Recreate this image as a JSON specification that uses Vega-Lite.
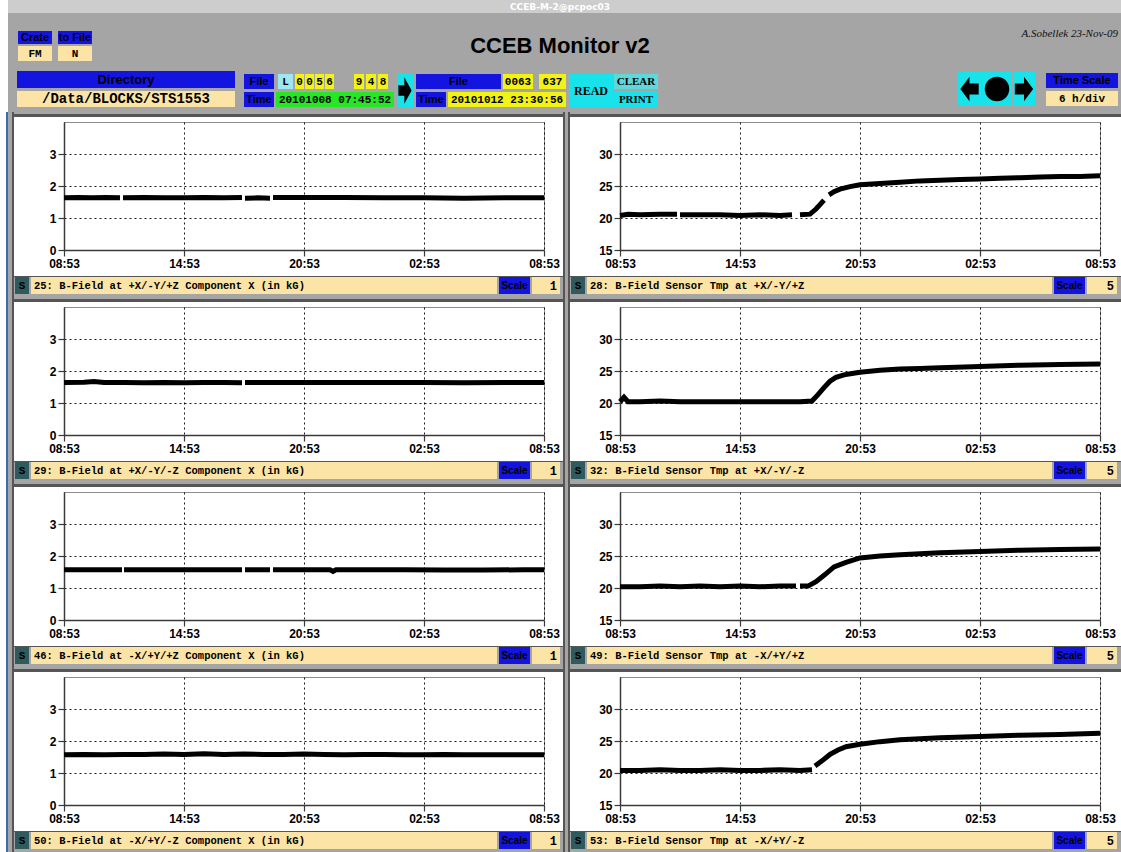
{
  "$schema": "https://vega.github.io/schema/vega-lite/v6.json",
  "background": "#ffffff",
  "padding": 0,
  "config": {
    "view": {"stroke": null},
    "concat": {"spacing": 0},
    "axis": {
      "labelFont": "Liberation Sans", "labelFontWeight": "bold", "labelFontSize": 12, "labelColor": "#000000",
      "grid": true, "gridColor": "#000000", "gridDash": [2, 3], "gridOpacity": 0.9, "gridWidth": 1,
      "domainColor": "#3a3a3a", "domainWidth": 1.5, "tickColor": "#3a3a3a", "tickSize": 6, "tickWidth": 1.2,
      "labelPadding": 2, "labelFlush": false, "labelOverlap": false, "labelBound": false
    },
    "style": {
      "lbl": {"font": "Liberation Sans", "fontWeight": "bold", "fontSize": 11, "fill": "#f2f2f2"},
      "lblL": {"font": "Liberation Sans", "fontWeight": "bold", "fontSize": 13, "fill": "#eeeeee"},
      "val": {"font": "Liberation Mono", "fontWeight": "bold", "fontSize": 11, "fill": "#111111"},
      "path": {"font": "Liberation Mono", "fontWeight": "bold", "fontSize": 14, "fill": "#222222"},
      "btn": {"font": "Liberation Serif", "fontWeight": "bold", "fontSize": 11, "fill": "#000000"},
      "btnL": {"font": "Liberation Serif", "fontWeight": "bold", "fontSize": 12, "fill": "#000000"},
      "sb": {"font": "Liberation Mono", "fontWeight": "bold", "fontSize": 11, "fill": "#e8e8e8"},
      "scl": {"font": "Liberation Sans", "fontWeight": "bold", "fontSize": 10, "fill": "#ffffff"},
      "foot": {"font": "Liberation Mono", "fontWeight": "bold", "fontSize": 10.5, "fill": "#111111", "align": "left", "dx": 3},
      "num": {"font": "Liberation Mono", "fontWeight": "bold", "fontSize": 12, "fill": "#111111", "align": "right", "dx": -3}
    }
  },
  "datasets": {
    "p25": [
      {"hours": 0, "value": 1.63, "seg": 1}, {"hours": 0.7, "value": 1.64, "seg": 1}, {"hours": 1.4, "value": 1.63, "seg": 1}, {"hours": 2.1, "value": 1.64, "seg": 1}, {"hours": 2.8, "value": 1.63, "seg": 1},
      {"hours": 2.95, "value": 1.63, "seg": 2}, {"hours": 4, "value": 1.64, "seg": 2}, {"hours": 5, "value": 1.63, "seg": 2}, {"hours": 6, "value": 1.63, "seg": 2}, {"hours": 7, "value": 1.64, "seg": 2}, {"hours": 8, "value": 1.63, "seg": 2}, {"hours": 8.9, "value": 1.64, "seg": 2},
      {"hours": 9.05, "value": 1.62, "seg": 3}, {"hours": 9.7, "value": 1.63, "seg": 3}, {"hours": 10.3, "value": 1.62, "seg": 3},
      {"hours": 10.45, "value": 1.64, "seg": 4}, {"hours": 12, "value": 1.64, "seg": 4}, {"hours": 14, "value": 1.64, "seg": 4}, {"hours": 16, "value": 1.63, "seg": 4}, {"hours": 18, "value": 1.63, "seg": 4}, {"hours": 20, "value": 1.62, "seg": 4}, {"hours": 22, "value": 1.63, "seg": 4}, {"hours": 24, "value": 1.63, "seg": 4}
    ],
    "p29": [
      {"hours": 0, "value": 1.64, "seg": 1}, {"hours": 1, "value": 1.65, "seg": 1}, {"hours": 1.5, "value": 1.67, "seg": 1}, {"hours": 2, "value": 1.64, "seg": 1}, {"hours": 3, "value": 1.64, "seg": 1}, {"hours": 4, "value": 1.63, "seg": 1}, {"hours": 5, "value": 1.64, "seg": 1}, {"hours": 6, "value": 1.63, "seg": 1}, {"hours": 7, "value": 1.64, "seg": 1}, {"hours": 8, "value": 1.64, "seg": 1}, {"hours": 8.9, "value": 1.63, "seg": 1},
      {"hours": 9.05, "value": 1.64, "seg": 2}, {"hours": 10, "value": 1.64, "seg": 2}, {"hours": 12, "value": 1.64, "seg": 2}, {"hours": 14, "value": 1.64, "seg": 2}, {"hours": 16, "value": 1.64, "seg": 2}, {"hours": 18, "value": 1.64, "seg": 2}, {"hours": 20, "value": 1.63, "seg": 2}, {"hours": 22, "value": 1.64, "seg": 2}, {"hours": 24, "value": 1.64, "seg": 2}
    ],
    "p46": [
      {"hours": 0, "value": 1.57, "seg": 1}, {"hours": 1, "value": 1.57, "seg": 1}, {"hours": 2, "value": 1.57, "seg": 1}, {"hours": 2.9, "value": 1.57, "seg": 1},
      {"hours": 3.0, "value": 1.57, "seg": 2}, {"hours": 4, "value": 1.57, "seg": 2}, {"hours": 5, "value": 1.57, "seg": 2}, {"hours": 6, "value": 1.57, "seg": 2}, {"hours": 7, "value": 1.57, "seg": 2}, {"hours": 8, "value": 1.57, "seg": 2}, {"hours": 8.9, "value": 1.57, "seg": 2},
      {"hours": 9.05, "value": 1.57, "seg": 3}, {"hours": 9.7, "value": 1.57, "seg": 3}, {"hours": 10.3, "value": 1.57, "seg": 3},
      {"hours": 10.45, "value": 1.57, "seg": 4}, {"hours": 12, "value": 1.57, "seg": 4}, {"hours": 13.3, "value": 1.57, "seg": 4}, {"hours": 13.45, "value": 1.52, "seg": 4}, {"hours": 13.6, "value": 1.57, "seg": 4}, {"hours": 15, "value": 1.57, "seg": 4}, {"hours": 17, "value": 1.57, "seg": 4}, {"hours": 19, "value": 1.56, "seg": 4}, {"hours": 21, "value": 1.56, "seg": 4}, {"hours": 23, "value": 1.57, "seg": 4}, {"hours": 24, "value": 1.57, "seg": 4}
    ],
    "p50": [
      {"hours": 0, "value": 1.57, "seg": 1}, {"hours": 1, "value": 1.58, "seg": 1}, {"hours": 2, "value": 1.57, "seg": 1}, {"hours": 3, "value": 1.58, "seg": 1}, {"hours": 4, "value": 1.58, "seg": 1}, {"hours": 5, "value": 1.59, "seg": 1}, {"hours": 6, "value": 1.58, "seg": 1}, {"hours": 7, "value": 1.6, "seg": 1}, {"hours": 8, "value": 1.58, "seg": 1}, {"hours": 9, "value": 1.59, "seg": 1}, {"hours": 10, "value": 1.58, "seg": 1}, {"hours": 11, "value": 1.58, "seg": 1}, {"hours": 12, "value": 1.59, "seg": 1},
      {"hours": 13, "value": 1.58, "seg": 1}, {"hours": 14, "value": 1.57, "seg": 1}, {"hours": 15, "value": 1.58, "seg": 1}, {"hours": 16, "value": 1.58, "seg": 1}, {"hours": 17, "value": 1.57, "seg": 1}, {"hours": 18, "value": 1.57, "seg": 1}, {"hours": 19, "value": 1.58, "seg": 1}, {"hours": 20, "value": 1.57, "seg": 1}, {"hours": 21, "value": 1.57, "seg": 1}, {"hours": 22, "value": 1.57, "seg": 1}, {"hours": 23, "value": 1.57, "seg": 1}, {"hours": 24, "value": 1.57, "seg": 1}
    ],
    "p28": [
      {"hours": 0, "value": 20.4, "seg": 1}, {"hours": 0.4, "value": 20.6, "seg": 1}, {"hours": 1, "value": 20.5, "seg": 1}, {"hours": 2, "value": 20.6, "seg": 1}, {"hours": 2.85, "value": 20.6, "seg": 1},
      {"hours": 3.0, "value": 20.5, "seg": 2}, {"hours": 4, "value": 20.5, "seg": 2}, {"hours": 5, "value": 20.5, "seg": 2}, {"hours": 6, "value": 20.4, "seg": 2}, {"hours": 7, "value": 20.5, "seg": 2}, {"hours": 8, "value": 20.4, "seg": 2}, {"hours": 8.6, "value": 20.5, "seg": 2},
      {"hours": 9.0, "value": 20.5, "seg": 3}, {"hours": 9.5, "value": 20.6, "seg": 3}, {"hours": 9.8, "value": 21.4, "seg": 3}, {"hours": 10.0, "value": 22.1, "seg": 3}, {"hours": 10.2, "value": 22.8, "seg": 3},
      {"hours": 10.45, "value": 23.6, "seg": 4}, {"hours": 10.7, "value": 24.1, "seg": 4}, {"hours": 11, "value": 24.5, "seg": 4}, {"hours": 11.5, "value": 24.9, "seg": 4}, {"hours": 12, "value": 25.2, "seg": 4}, {"hours": 13, "value": 25.4, "seg": 4}, {"hours": 14, "value": 25.6, "seg": 4}, {"hours": 15, "value": 25.8, "seg": 4}, {"hours": 16, "value": 25.9, "seg": 4}, {"hours": 17, "value": 26.0, "seg": 4}, {"hours": 18, "value": 26.1, "seg": 4}, {"hours": 19, "value": 26.2, "seg": 4}, {"hours": 20, "value": 26.3, "seg": 4}, {"hours": 21, "value": 26.4, "seg": 4}, {"hours": 22, "value": 26.5, "seg": 4}, {"hours": 23, "value": 26.5, "seg": 4}, {"hours": 24, "value": 26.6, "seg": 4}
    ],
    "p32": [
      {"hours": 0, "value": 20.2, "seg": 1}, {"hours": 0.2, "value": 20.9, "seg": 1}, {"hours": 0.4, "value": 20.2, "seg": 1}, {"hours": 1, "value": 20.2, "seg": 1}, {"hours": 2, "value": 20.3, "seg": 1}, {"hours": 3, "value": 20.2, "seg": 1}, {"hours": 4, "value": 20.2, "seg": 1}, {"hours": 5, "value": 20.2, "seg": 1}, {"hours": 6, "value": 20.2, "seg": 1}, {"hours": 7, "value": 20.2, "seg": 1}, {"hours": 8, "value": 20.2, "seg": 1}, {"hours": 9, "value": 20.2, "seg": 1}, {"hours": 9.6, "value": 20.3, "seg": 1},
      {"hours": 9.9, "value": 21.3, "seg": 1}, {"hours": 10.2, "value": 22.4, "seg": 1}, {"hours": 10.5, "value": 23.4, "seg": 1}, {"hours": 10.8, "value": 24.0, "seg": 1}, {"hours": 11.2, "value": 24.4, "seg": 1}, {"hours": 11.6, "value": 24.6, "seg": 1}, {"hours": 12, "value": 24.8, "seg": 1}, {"hours": 13, "value": 25.1, "seg": 1}, {"hours": 14, "value": 25.3, "seg": 1}, {"hours": 15, "value": 25.4, "seg": 1}, {"hours": 16, "value": 25.5, "seg": 1}, {"hours": 18, "value": 25.7, "seg": 1}, {"hours": 20, "value": 25.9, "seg": 1}, {"hours": 22, "value": 26.0, "seg": 1}, {"hours": 24, "value": 26.1, "seg": 1}
    ],
    "p49": [
      {"hours": 0, "value": 20.2, "seg": 1}, {"hours": 1, "value": 20.2, "seg": 1}, {"hours": 2, "value": 20.3, "seg": 1}, {"hours": 3, "value": 20.2, "seg": 1}, {"hours": 4, "value": 20.3, "seg": 1}, {"hours": 5, "value": 20.2, "seg": 1}, {"hours": 6, "value": 20.3, "seg": 1}, {"hours": 7, "value": 20.2, "seg": 1}, {"hours": 8, "value": 20.3, "seg": 1}, {"hours": 8.8, "value": 20.3, "seg": 1},
      {"hours": 9.0, "value": 20.3, "seg": 2}, {"hours": 9.4, "value": 20.3, "seg": 2}, {"hours": 9.8, "value": 21.0, "seg": 2}, {"hours": 10.25, "value": 22.1, "seg": 2}, {"hours": 10.7, "value": 23.3, "seg": 2}, {"hours": 11.3, "value": 24.0, "seg": 2}, {"hours": 12, "value": 24.7, "seg": 2}, {"hours": 13, "value": 25.0, "seg": 2}, {"hours": 14, "value": 25.2, "seg": 2}, {"hours": 16, "value": 25.5, "seg": 2}, {"hours": 18, "value": 25.7, "seg": 2}, {"hours": 20, "value": 25.9, "seg": 2}, {"hours": 22, "value": 26.0, "seg": 2}, {"hours": 24, "value": 26.1, "seg": 2}
    ],
    "p53": [
      {"hours": 0, "value": 20.4, "seg": 1}, {"hours": 1, "value": 20.4, "seg": 1}, {"hours": 2, "value": 20.5, "seg": 1}, {"hours": 3, "value": 20.4, "seg": 1}, {"hours": 4, "value": 20.4, "seg": 1}, {"hours": 5, "value": 20.5, "seg": 1}, {"hours": 6, "value": 20.4, "seg": 1}, {"hours": 7, "value": 20.4, "seg": 1}, {"hours": 8, "value": 20.5, "seg": 1}, {"hours": 9, "value": 20.4, "seg": 1}, {"hours": 9.6, "value": 20.5, "seg": 1},
      {"hours": 9.75, "value": 21.1, "seg": 2}, {"hours": 10.1, "value": 21.9, "seg": 2}, {"hours": 10.5, "value": 22.9, "seg": 2}, {"hours": 10.9, "value": 23.6, "seg": 2}, {"hours": 11.3, "value": 24.1, "seg": 2}, {"hours": 12, "value": 24.5, "seg": 2}, {"hours": 13, "value": 24.9, "seg": 2}, {"hours": 14, "value": 25.2, "seg": 2}, {"hours": 16, "value": 25.5, "seg": 2}, {"hours": 18, "value": 25.7, "seg": 2}, {"hours": 20, "value": 25.9, "seg": 2}, {"hours": 22, "value": 26.0, "seg": 2}, {"hours": 24, "value": 26.2, "seg": 2}
    ]
  },
  "vconcat": [
    {"hconcat": [
      {"width": 8, "height": 112, "view": {"fill": "transparent"}, "mark": "text", "data": {"values": []}},
      {"vconcat": [
        {"bounds": "flush", "hconcat": [
          {"width": 1104, "height": 13, "view": {"fill": "#cdcdcd"}, "data": {"values": [{"t": "CCEB-M-2@pcpoc03"}]}, "mark": {"type": "text", "font": "DejaVu Sans", "fontWeight": "bold", "fontSize": 9, "fill": "#ffffff"}, "encoding": {"text": {"field": "t"}}},
          {"width": 9, "height": 13, "view": {"fill": "#cdcdcd"}, "mark": "text", "data": {"values": []}}
        ]},
        {"width": 1113, "height": 14, "view": {"fill": "#a5a5a5"}, "mark": "text", "data": {"values": []}},
        {"hconcat": [
          {"width": 10, "height": 38, "view": {"fill": "#a5a5a5"}, "mark": "text", "data": {"values": []}},
          {"bounds": "flush", "vconcat": [
            {"width": 34, "height": 4, "view": {"fill": "#a5a5a5"}, "mark": "text", "data": {"values": []}},
            {"width": 34, "height": 13, "view": {"fill": "#1414e0"}, "data": {"values": [{"t": "Crate"}]}, "mark": {"type": "text", "style": "lbl"}, "encoding": {"text": {"field": "t"}}},
            {"width": 34, "height": 2, "view": {"fill": "#a5a5a5"}, "mark": "text", "data": {"values": []}},
            {"width": 34, "height": 15, "view": {"fill": "#fce4a6"}, "data": {"values": [{"t": "FM"}]}, "mark": {"type": "text", "style": "val"}, "encoding": {"text": {"field": "t"}}},
            {"width": 34, "height": 4, "view": {"fill": "#a5a5a5"}, "mark": "text", "data": {"values": []}}
          ]},
          {"width": 6, "height": 38, "view": {"fill": "#a5a5a5"}, "mark": "text", "data": {"values": []}},
          {"bounds": "flush", "vconcat": [
            {"width": 34, "height": 4, "view": {"fill": "#a5a5a5"}, "mark": "text", "data": {"values": []}},
            {"width": 34, "height": 13, "view": {"fill": "#1414e0"}, "data": {"values": [{"t": "to File"}]}, "mark": {"type": "text", "style": "lbl"}, "encoding": {"text": {"field": "t"}}},
            {"width": 34, "height": 2, "view": {"fill": "#a5a5a5"}, "mark": "text", "data": {"values": []}},
            {"width": 34, "height": 15, "view": {"fill": "#fce4a6"}, "data": {"values": [{"t": "N"}]}, "mark": {"type": "text", "style": "val"}, "encoding": {"text": {"field": "t"}}},
            {"width": 34, "height": 4, "view": {"fill": "#a5a5a5"}, "mark": "text", "data": {"values": []}}
          ]},
          {"width": 37, "height": 38, "view": {"fill": "#a5a5a5"}, "mark": "text", "data": {"values": []}},
          {"width": 862, "height": 38, "view": {"fill": "#a5a5a5"}, "data": {"values": [{"t": "CCEB Monitor v2"}]}, "mark": {"type": "text", "font": "Liberation Sans", "fontWeight": "bold", "fontSize": 22, "fill": "#000000"}, "encoding": {"text": {"field": "t"}}},
          {"width": 130, "height": 38, "view": {"fill": "#a5a5a5"}, "data": {"values": [{"t": "A.Sobellek 23-Nov-09"}]}, "mark": {"type": "text", "font": "Liberation Serif", "fontStyle": "italic", "fontSize": 11, "fill": "#111111", "align": "right", "baseline": "top", "dx": -3, "dy": 1}, "encoding": {"text": {"field": "t"}, "x": {"field": "t", "type": "nominal", "scale": {"type": "point", "padding": 0, "align": 1}, "axis": null}, "y": {"field": "t", "type": "nominal", "scale": {"type": "point", "padding": 0, "align": 0}, "axis": null}}}
        ]},
        {"width": 1113, "height": 3, "view": {"fill": "#a5a5a5"}, "mark": "text", "data": {"values": []}},
        {"hconcat": [
          {"width": 9, "height": 42, "view": {"fill": "#a5a5a5"}, "mark": "text", "data": {"values": []}},
          {"bounds": "flush", "vconcat": [
            {"width": 218, "height": 3, "view": {"fill": "#a5a5a5"}, "mark": "text", "data": {"values": []}},
            {"width": 218, "height": 17, "view": {"fill": "#1414e0"}, "data": {"values": [{"t": "Directory"}]}, "mark": {"type": "text", "style": "lblL"}, "encoding": {"text": {"field": "t"}}},
            {"width": 218, "height": 3, "view": {"fill": "#a5a5a5"}, "mark": "text", "data": {"values": []}},
            {"width": 218, "height": 16, "view": {"fill": "#fce4a6"}, "data": {"values": [{"t": "/Data/BLOCKS/STS1553"}]}, "mark": {"type": "text", "style": "path"}, "encoding": {"text": {"field": "t"}}},
            {"width": 218, "height": 3, "view": {"fill": "#a5a5a5"}, "mark": "text", "data": {"values": []}}
          ]},
          {"width": 9, "height": 42, "view": {"fill": "#a5a5a5"}, "mark": "text", "data": {"values": []}},
          {"vconcat": [
            {"width": 150, "height": 6, "view": {"fill": "#a5a5a5"}, "mark": "text", "data": {"values": []}},
            {"bounds": "flush", "hconcat": [
              {"width": 30, "height": 15, "view": {"fill": "#1414e0"}, "data": {"values": [{"t": "File"}]}, "mark": {"type": "text", "style": "lbl"}, "encoding": {"text": {"field": "t"}}},
              {"width": 4, "height": 15, "view": {"fill": "#a5a5a5"}, "mark": "text", "data": {"values": []}},
              {"width": 15, "height": 15, "view": {"fill": "#9fe6ee"}, "data": {"values": [{"t": "L"}]}, "mark": {"type": "text", "style": "val"}, "encoding": {"text": {"field": "t"}}},
              {"width": 2, "height": 15, "view": {"fill": "#a5a5a5"}, "mark": "text", "data": {"values": []}},
              {"width": 9, "height": 15, "view": {"fill": "#f2f214"}, "data": {"values": [{"t": "0"}]}, "mark": {"type": "text", "style": "val"}, "encoding": {"text": {"field": "t"}}},
              {"width": 1, "height": 15, "view": {"fill": "#a5a5a5"}, "mark": "text", "data": {"values": []}},
              {"width": 9, "height": 15, "view": {"fill": "#f2f214"}, "data": {"values": [{"t": "0"}]}, "mark": {"type": "text", "style": "val"}, "encoding": {"text": {"field": "t"}}},
              {"width": 1, "height": 15, "view": {"fill": "#a5a5a5"}, "mark": "text", "data": {"values": []}},
              {"width": 9, "height": 15, "view": {"fill": "#f2f214"}, "data": {"values": [{"t": "5"}]}, "mark": {"type": "text", "style": "val"}, "encoding": {"text": {"field": "t"}}},
              {"width": 1, "height": 15, "view": {"fill": "#a5a5a5"}, "mark": "text", "data": {"values": []}},
              {"width": 9, "height": 15, "view": {"fill": "#f2f214"}, "data": {"values": [{"t": "6"}]}, "mark": {"type": "text", "style": "val"}, "encoding": {"text": {"field": "t"}}},
              {"width": 20, "height": 15, "view": {"fill": "#a5a5a5"}, "mark": "text", "data": {"values": []}},
              {"width": 10, "height": 15, "view": {"fill": "#f2f214"}, "data": {"values": [{"t": "9"}]}, "mark": {"type": "text", "style": "val"}, "encoding": {"text": {"field": "t"}}},
              {"width": 2, "height": 15, "view": {"fill": "#a5a5a5"}, "mark": "text", "data": {"values": []}},
              {"width": 10, "height": 15, "view": {"fill": "#f2f214"}, "data": {"values": [{"t": "4"}]}, "mark": {"type": "text", "style": "val"}, "encoding": {"text": {"field": "t"}}},
              {"width": 2, "height": 15, "view": {"fill": "#a5a5a5"}, "mark": "text", "data": {"values": []}},
              {"width": 10, "height": 15, "view": {"fill": "#f2f214"}, "data": {"values": [{"t": "8"}]}, "mark": {"type": "text", "style": "val"}, "encoding": {"text": {"field": "t"}}},
              {"width": 6, "height": 15, "view": {"fill": "#a5a5a5"}, "mark": "text", "data": {"values": []}}
            ]},
            {"width": 150, "height": 3, "view": {"fill": "#a5a5a5"}, "mark": "text", "data": {"values": []}},
            {"bounds": "flush", "hconcat": [
              {"width": 30, "height": 15, "view": {"fill": "#1414e0"}, "data": {"values": [{"t": "Time"}]}, "mark": {"type": "text", "style": "lbl"}, "encoding": {"text": {"field": "t"}}},
              {"width": 2, "height": 15, "view": {"fill": "#a5a5a5"}, "mark": "text", "data": {"values": []}},
              {"width": 118, "height": 15, "view": {"fill": "#26e626"}, "data": {"values": [{"t": "20101008 07:45:52"}]}, "mark": {"type": "text", "style": "val"}, "encoding": {"text": {"field": "t"}}}
            ]},
            {"width": 150, "height": 3, "view": {"fill": "#a5a5a5"}, "mark": "text", "data": {"values": []}}
          ]},
          {"width": 3, "height": 42, "view": {"fill": "#a5a5a5"}, "mark": "text", "data": {"values": []}},
          {"bounds": "flush", "vconcat": [
            {"width": 16, "height": 6, "view": {"fill": "#a5a5a5"}, "mark": "text", "data": {"values": []}},
            {"width": 16, "height": 33, "view": {"fill": "#18e2ea"}, "data": {"values": [{"b": "jump"}]}, "mark": {"type": "point", "shape": "M0.5,0L-0.05,-1L-0.05,-0.4L-0.5,-0.4L-0.5,0.4L-0.05,0.4L-0.05,1Z", "size": 700, "filled": true, "color": "#000000", "opacity": 1, "strokeWidth": 0}, "encoding": {}},
            {"width": 16, "height": 3, "view": {"fill": "#a5a5a5"}, "mark": "text", "data": {"values": []}}
          ]},
          {"width": 3, "height": 42, "view": {"fill": "#a5a5a5"}, "mark": "text", "data": {"values": []}},
          {"vconcat": [
            {"width": 150, "height": 6, "view": {"fill": "#a5a5a5"}, "mark": "text", "data": {"values": []}},
            {"bounds": "flush", "hconcat": [
              {"width": 85, "height": 15, "view": {"fill": "#1414e0"}, "data": {"values": [{"t": "File"}]}, "mark": {"type": "text", "style": "lbl"}, "encoding": {"text": {"field": "t"}}},
              {"width": 2, "height": 15, "view": {"fill": "#a5a5a5"}, "mark": "text", "data": {"values": []}},
              {"width": 30, "height": 15, "view": {"fill": "#f2f214"}, "data": {"values": [{"t": "0063"}]}, "mark": {"type": "text", "style": "val"}, "encoding": {"text": {"field": "t"}}},
              {"width": 6, "height": 15, "view": {"fill": "#a5a5a5"}, "mark": "text", "data": {"values": []}},
              {"width": 27, "height": 15, "view": {"fill": "#f2f214"}, "data": {"values": [{"t": "637"}]}, "mark": {"type": "text", "style": "val"}, "encoding": {"text": {"field": "t"}}}
            ]},
            {"width": 150, "height": 3, "view": {"fill": "#a5a5a5"}, "mark": "text", "data": {"values": []}},
            {"bounds": "flush", "hconcat": [
              {"width": 30, "height": 15, "view": {"fill": "#1414e0"}, "data": {"values": [{"t": "Time"}]}, "mark": {"type": "text", "style": "lbl"}, "encoding": {"text": {"field": "t"}}},
              {"width": 2, "height": 15, "view": {"fill": "#a5a5a5"}, "mark": "text", "data": {"values": []}},
              {"width": 118, "height": 15, "view": {"fill": "#f2f214"}, "data": {"values": [{"t": "20101012 23:30:56"}]}, "mark": {"type": "text", "style": "val"}, "encoding": {"text": {"field": "t"}}}
            ]},
            {"width": 150, "height": 3, "view": {"fill": "#a5a5a5"}, "mark": "text", "data": {"values": []}}
          ]},
          {"width": 3, "height": 42, "view": {"fill": "#a5a5a5"}, "mark": "text", "data": {"values": []}},
          {"bounds": "flush", "vconcat": [
            {"width": 44, "height": 6, "view": {"fill": "#a5a5a5"}, "mark": "text", "data": {"values": []}},
            {"width": 44, "height": 33, "view": {"fill": "#18e2ea"}, "data": {"values": [{"t": "READ"}]}, "mark": {"type": "text", "style": "btnL"}, "encoding": {"text": {"field": "t"}}},
            {"width": 44, "height": 3, "view": {"fill": "#a5a5a5"}, "mark": "text", "data": {"values": []}}
          ]},
          {"width": 1, "height": 42, "view": {"fill": "#a5a5a5"}, "mark": "text", "data": {"values": []}},
          {"bounds": "flush", "vconcat": [
            {"width": 44, "height": 6, "view": {"fill": "#a5a5a5"}, "mark": "text", "data": {"values": []}},
            {"width": 44, "height": 15, "view": {"fill": "#5fd8dc"}, "data": {"values": [{"t": "CLEAR"}]}, "mark": {"type": "text", "style": "btn"}, "encoding": {"text": {"field": "t"}}},
            {"width": 44, "height": 3, "view": {"fill": "#a5a5a5"}, "mark": "text", "data": {"values": []}},
            {"width": 44, "height": 15, "view": {"fill": "#18e2ea"}, "data": {"values": [{"t": "PRINT"}]}, "mark": {"type": "text", "style": "btn"}, "encoding": {"text": {"field": "t"}}},
            {"width": 44, "height": 3, "view": {"fill": "#a5a5a5"}, "mark": "text", "data": {"values": []}}
          ]},
          {"width": 300, "height": 42, "view": {"fill": "#a5a5a5"}, "mark": "text", "data": {"values": []}},
          {"vconcat": [
            {"width": 77, "height": 4, "view": {"fill": "#a5a5a5"}, "mark": "text", "data": {"values": []}},
            {"bounds": "flush", "hconcat": [
              {"width": 23, "height": 34, "view": {"fill": "#18e2ea"}, "data": {"values": [{"b": "back"}]}, "mark": {"type": "point", "shape": "M-0.75,0L0,-1L0,-0.45L0.75,-0.45L0.75,0.45L0,0.45L0,1Z", "size": 600, "filled": true, "color": "#000000", "opacity": 1, "strokeWidth": 0}, "encoding": {}},
              {"width": 1, "height": 34, "view": {"fill": "#a5a5a5"}, "mark": "text", "data": {"values": []}},
              {"width": 30, "height": 34, "view": {"fill": "#18e2ea"}, "data": {"values": [{"b": "stop"}]}, "mark": {"type": "point", "shape": "circle", "size": 600, "filled": true, "color": "#000000", "opacity": 1, "strokeWidth": 0}, "encoding": {}},
              {"width": 1, "height": 34, "view": {"fill": "#a5a5a5"}, "mark": "text", "data": {"values": []}},
              {"width": 22, "height": 34, "view": {"fill": "#18e2ea"}, "data": {"values": [{"b": "forward"}]}, "mark": {"type": "point", "shape": "M0.75,0L0,-1L0,-0.45L-0.75,-0.45L-0.75,0.45L0,0.45L0,1Z", "size": 600, "filled": true, "color": "#000000", "opacity": 1, "strokeWidth": 0}, "encoding": {}}
            ]},
            {"width": 77, "height": 4, "view": {"fill": "#a5a5a5"}, "mark": "text", "data": {"values": []}}
          ]},
          {"width": 11, "height": 42, "view": {"fill": "#a5a5a5"}, "mark": "text", "data": {"values": []}},
          {"bounds": "flush", "vconcat": [
            {"width": 72, "height": 5, "view": {"fill": "#a5a5a5"}, "mark": "text", "data": {"values": []}},
            {"width": 72, "height": 15, "view": {"fill": "#1414e0"}, "data": {"values": [{"t": "Time Scale"}]}, "mark": {"type": "text", "style": "lbl"}, "encoding": {"text": {"field": "t"}}},
            {"width": 72, "height": 3, "view": {"fill": "#a5a5a5"}, "mark": "text", "data": {"values": []}},
            {"width": 72, "height": 15, "view": {"fill": "#fce4a6"}, "data": {"values": [{"t": "6 h/div"}]}, "mark": {"type": "text", "style": "val"}, "encoding": {"text": {"field": "t"}}},
            {"width": 72, "height": 4, "view": {"fill": "#a5a5a5"}, "mark": "text", "data": {"values": []}}
          ]},
          {"width": 3, "height": 42, "view": {"fill": "#a5a5a5"}, "mark": "text", "data": {"values": []}}
        ]},
        {"width": 1113, "height": 2, "view": {"fill": "#a5a5a5"}, "mark": "text", "data": {"values": []}}
      ]}
    ]},
    {"hconcat": [
      {"width": 6, "height": 740, "view": {"fill": "transparent"}, "mark": "text", "data": {"values": []}},
      {"width": 2, "height": 740, "view": {"fill": "#3c6cb0"}, "mark": "text", "data": {"values": []}},
      {"width": 4, "height": 740, "view": {"fill": "#a5a5a5"}, "mark": "text", "data": {"values": []}},
      {"width": 2, "height": 740, "view": {"fill": "#555555"}, "mark": "text", "data": {"values": []}},
      {"vconcat": [
        {"vconcat": [
          {"width": 549, "height": 2, "view": {"fill": "#a5a5a5"}, "mark": "text", "data": {"values": []}},
          {"width": 549, "height": 3, "view": {"fill": "#555555"}, "mark": "text", "data": {"values": []}},
          {"width": 1, "height": 3.75, "view": {"fill": "transparent"}, "mark": "text", "data": {"values": []}},
          {"bounds": "flush", "hconcat": [
            {"width": 50, "height": 154, "view": {"fill": "transparent"}, "mark": "text", "data": {"values": []}},
            {"width": 480, "height": 128, "data": {"name": "p25"}, "view": {"fill": "#ffffff", "stroke": "#8c8c8c"}, "mark": {"type": "line", "color": "#000000", "strokeWidth": 5, "strokeCap": "butt"}, "encoding": {"x": {"field": "hours", "type": "quantitative", "title": null, "scale": {"domain": [0, 24], "nice": false}, "axis": {"values": [0, 6, 12, 18, 24], "labelExpr": "['08:53','14:53','20:53','02:53','08:53'][datum.value / 6]"}}, "y": {"field": "value", "type": "quantitative", "title": null, "scale": {"domain": [0, 4], "nice": false}, "axis": {"values": [0, 1, 2, 3]}}, "detail": {"field": "seg", "type": "nominal"}}}
          ]},
          {"width": 549, "height": 1, "view": {"fill": "#555555"}, "mark": "text", "data": {"values": []}},
          {"bounds": "flush", "hconcat": [
            {"width": 1, "height": 17, "view": {"fill": "#a5a5a5"}, "mark": "text", "data": {"values": []}},
            {"width": 14, "height": 17, "view": {"fill": "#2f5a5e"}, "data": {"values": [{"t": "S"}]}, "mark": {"type": "text", "style": "sb"}, "encoding": {"text": {"field": "t"}}},
            {"width": 2, "height": 17, "view": {"fill": "#a5a5a5"}, "mark": "text", "data": {"values": []}},
            {"width": 466, "height": 17, "view": {"fill": "#fce4a6"}, "data": {"values": [{"t": "25: B-Field at +X/-Y/+Z Component X (in kG)"}]}, "mark": {"type": "text", "style": "foot"}, "encoding": {"text": {"field": "t"}, "x": {"field": "t", "type": "nominal", "scale": {"type": "point", "padding": 0, "align": 0}, "axis": null}}},
            {"width": 2, "height": 17, "view": {"fill": "#a5a5a5"}, "mark": "text", "data": {"values": []}},
            {"width": 31, "height": 17, "view": {"fill": "#1414e0"}, "data": {"values": [{"t": "Scale"}]}, "mark": {"type": "text", "style": "scl"}, "encoding": {"text": {"field": "t"}}},
            {"width": 2, "height": 17, "view": {"fill": "#a5a5a5"}, "mark": "text", "data": {"values": []}},
            {"width": 28, "height": 17, "view": {"fill": "#fce4a6"}, "data": {"values": [{"t": "1"}]}, "mark": {"type": "text", "style": "num"}, "encoding": {"text": {"field": "t"}, "x": {"field": "t", "type": "nominal", "scale": {"type": "point", "padding": 0, "align": 1}, "axis": null}}},
            {"width": 3, "height": 17, "view": {"fill": "#a5a5a5"}, "mark": "text", "data": {"values": []}}
          ]},
          {"width": 549, "height": 3, "view": {"fill": "#a5a5a5"}, "mark": "text", "data": {"values": []}}
        ]},
        {"vconcat": [
          {"width": 549, "height": 2, "view": {"fill": "#a5a5a5"}, "mark": "text", "data": {"values": []}},
          {"width": 549, "height": 3, "view": {"fill": "#555555"}, "mark": "text", "data": {"values": []}},
          {"width": 1, "height": 3.75, "view": {"fill": "transparent"}, "mark": "text", "data": {"values": []}},
          {"bounds": "flush", "hconcat": [
            {"width": 50, "height": 154, "view": {"fill": "transparent"}, "mark": "text", "data": {"values": []}},
            {"width": 480, "height": 128, "data": {"name": "p29"}, "view": {"fill": "#ffffff", "stroke": "#8c8c8c"}, "mark": {"type": "line", "color": "#000000", "strokeWidth": 5, "strokeCap": "butt"}, "encoding": {"x": {"field": "hours", "type": "quantitative", "title": null, "scale": {"domain": [0, 24], "nice": false}, "axis": {"values": [0, 6, 12, 18, 24], "labelExpr": "['08:53','14:53','20:53','02:53','08:53'][datum.value / 6]"}}, "y": {"field": "value", "type": "quantitative", "title": null, "scale": {"domain": [0, 4], "nice": false}, "axis": {"values": [0, 1, 2, 3]}}, "detail": {"field": "seg", "type": "nominal"}}}
          ]},
          {"width": 549, "height": 1, "view": {"fill": "#555555"}, "mark": "text", "data": {"values": []}},
          {"bounds": "flush", "hconcat": [
            {"width": 1, "height": 17, "view": {"fill": "#a5a5a5"}, "mark": "text", "data": {"values": []}},
            {"width": 14, "height": 17, "view": {"fill": "#2f5a5e"}, "data": {"values": [{"t": "S"}]}, "mark": {"type": "text", "style": "sb"}, "encoding": {"text": {"field": "t"}}},
            {"width": 2, "height": 17, "view": {"fill": "#a5a5a5"}, "mark": "text", "data": {"values": []}},
            {"width": 466, "height": 17, "view": {"fill": "#fce4a6"}, "data": {"values": [{"t": "29: B-Field at +X/-Y/-Z Component X (in kG)"}]}, "mark": {"type": "text", "style": "foot"}, "encoding": {"text": {"field": "t"}, "x": {"field": "t", "type": "nominal", "scale": {"type": "point", "padding": 0, "align": 0}, "axis": null}}},
            {"width": 2, "height": 17, "view": {"fill": "#a5a5a5"}, "mark": "text", "data": {"values": []}},
            {"width": 31, "height": 17, "view": {"fill": "#1414e0"}, "data": {"values": [{"t": "Scale"}]}, "mark": {"type": "text", "style": "scl"}, "encoding": {"text": {"field": "t"}}},
            {"width": 2, "height": 17, "view": {"fill": "#a5a5a5"}, "mark": "text", "data": {"values": []}},
            {"width": 28, "height": 17, "view": {"fill": "#fce4a6"}, "data": {"values": [{"t": "1"}]}, "mark": {"type": "text", "style": "num"}, "encoding": {"text": {"field": "t"}, "x": {"field": "t", "type": "nominal", "scale": {"type": "point", "padding": 0, "align": 1}, "axis": null}}},
            {"width": 3, "height": 17, "view": {"fill": "#a5a5a5"}, "mark": "text", "data": {"values": []}}
          ]},
          {"width": 549, "height": 3, "view": {"fill": "#a5a5a5"}, "mark": "text", "data": {"values": []}}
        ]},
        {"vconcat": [
          {"width": 549, "height": 2, "view": {"fill": "#a5a5a5"}, "mark": "text", "data": {"values": []}},
          {"width": 549, "height": 3, "view": {"fill": "#555555"}, "mark": "text", "data": {"values": []}},
          {"width": 1, "height": 3.75, "view": {"fill": "transparent"}, "mark": "text", "data": {"values": []}},
          {"bounds": "flush", "hconcat": [
            {"width": 50, "height": 154, "view": {"fill": "transparent"}, "mark": "text", "data": {"values": []}},
            {"width": 480, "height": 128, "data": {"name": "p46"}, "view": {"fill": "#ffffff", "stroke": "#8c8c8c"}, "mark": {"type": "line", "color": "#000000", "strokeWidth": 5, "strokeCap": "butt"}, "encoding": {"x": {"field": "hours", "type": "quantitative", "title": null, "scale": {"domain": [0, 24], "nice": false}, "axis": {"values": [0, 6, 12, 18, 24], "labelExpr": "['08:53','14:53','20:53','02:53','08:53'][datum.value / 6]"}}, "y": {"field": "value", "type": "quantitative", "title": null, "scale": {"domain": [0, 4], "nice": false}, "axis": {"values": [0, 1, 2, 3]}}, "detail": {"field": "seg", "type": "nominal"}}}
          ]},
          {"width": 549, "height": 1, "view": {"fill": "#555555"}, "mark": "text", "data": {"values": []}},
          {"bounds": "flush", "hconcat": [
            {"width": 1, "height": 17, "view": {"fill": "#a5a5a5"}, "mark": "text", "data": {"values": []}},
            {"width": 14, "height": 17, "view": {"fill": "#2f5a5e"}, "data": {"values": [{"t": "S"}]}, "mark": {"type": "text", "style": "sb"}, "encoding": {"text": {"field": "t"}}},
            {"width": 2, "height": 17, "view": {"fill": "#a5a5a5"}, "mark": "text", "data": {"values": []}},
            {"width": 466, "height": 17, "view": {"fill": "#fce4a6"}, "data": {"values": [{"t": "46: B-Field at -X/+Y/+Z Component X (in kG)"}]}, "mark": {"type": "text", "style": "foot"}, "encoding": {"text": {"field": "t"}, "x": {"field": "t", "type": "nominal", "scale": {"type": "point", "padding": 0, "align": 0}, "axis": null}}},
            {"width": 2, "height": 17, "view": {"fill": "#a5a5a5"}, "mark": "text", "data": {"values": []}},
            {"width": 31, "height": 17, "view": {"fill": "#1414e0"}, "data": {"values": [{"t": "Scale"}]}, "mark": {"type": "text", "style": "scl"}, "encoding": {"text": {"field": "t"}}},
            {"width": 2, "height": 17, "view": {"fill": "#a5a5a5"}, "mark": "text", "data": {"values": []}},
            {"width": 28, "height": 17, "view": {"fill": "#fce4a6"}, "data": {"values": [{"t": "1"}]}, "mark": {"type": "text", "style": "num"}, "encoding": {"text": {"field": "t"}, "x": {"field": "t", "type": "nominal", "scale": {"type": "point", "padding": 0, "align": 1}, "axis": null}}},
            {"width": 3, "height": 17, "view": {"fill": "#a5a5a5"}, "mark": "text", "data": {"values": []}}
          ]},
          {"width": 549, "height": 3, "view": {"fill": "#a5a5a5"}, "mark": "text", "data": {"values": []}}
        ]},
        {"vconcat": [
          {"width": 549, "height": 2, "view": {"fill": "#a5a5a5"}, "mark": "text", "data": {"values": []}},
          {"width": 549, "height": 3, "view": {"fill": "#555555"}, "mark": "text", "data": {"values": []}},
          {"width": 1, "height": 3.75, "view": {"fill": "transparent"}, "mark": "text", "data": {"values": []}},
          {"bounds": "flush", "hconcat": [
            {"width": 50, "height": 154, "view": {"fill": "transparent"}, "mark": "text", "data": {"values": []}},
            {"width": 480, "height": 128, "data": {"name": "p50"}, "view": {"fill": "#ffffff", "stroke": "#8c8c8c"}, "mark": {"type": "line", "color": "#000000", "strokeWidth": 5, "strokeCap": "butt"}, "encoding": {"x": {"field": "hours", "type": "quantitative", "title": null, "scale": {"domain": [0, 24], "nice": false}, "axis": {"values": [0, 6, 12, 18, 24], "labelExpr": "['08:53','14:53','20:53','02:53','08:53'][datum.value / 6]"}}, "y": {"field": "value", "type": "quantitative", "title": null, "scale": {"domain": [0, 4], "nice": false}, "axis": {"values": [0, 1, 2, 3]}}, "detail": {"field": "seg", "type": "nominal"}}}
          ]},
          {"width": 549, "height": 1, "view": {"fill": "#555555"}, "mark": "text", "data": {"values": []}},
          {"bounds": "flush", "hconcat": [
            {"width": 1, "height": 17, "view": {"fill": "#a5a5a5"}, "mark": "text", "data": {"values": []}},
            {"width": 14, "height": 17, "view": {"fill": "#2f5a5e"}, "data": {"values": [{"t": "S"}]}, "mark": {"type": "text", "style": "sb"}, "encoding": {"text": {"field": "t"}}},
            {"width": 2, "height": 17, "view": {"fill": "#a5a5a5"}, "mark": "text", "data": {"values": []}},
            {"width": 466, "height": 17, "view": {"fill": "#fce4a6"}, "data": {"values": [{"t": "50: B-Field at -X/+Y/-Z Component X (in kG)"}]}, "mark": {"type": "text", "style": "foot"}, "encoding": {"text": {"field": "t"}, "x": {"field": "t", "type": "nominal", "scale": {"type": "point", "padding": 0, "align": 0}, "axis": null}}},
            {"width": 2, "height": 17, "view": {"fill": "#a5a5a5"}, "mark": "text", "data": {"values": []}},
            {"width": 31, "height": 17, "view": {"fill": "#1414e0"}, "data": {"values": [{"t": "Scale"}]}, "mark": {"type": "text", "style": "scl"}, "encoding": {"text": {"field": "t"}}},
            {"width": 2, "height": 17, "view": {"fill": "#a5a5a5"}, "mark": "text", "data": {"values": []}},
            {"width": 28, "height": 17, "view": {"fill": "#fce4a6"}, "data": {"values": [{"t": "1"}]}, "mark": {"type": "text", "style": "num"}, "encoding": {"text": {"field": "t"}, "x": {"field": "t", "type": "nominal", "scale": {"type": "point", "padding": 0, "align": 1}, "axis": null}}},
            {"width": 3, "height": 17, "view": {"fill": "#a5a5a5"}, "mark": "text", "data": {"values": []}}
          ]},
          {"width": 549, "height": 3, "view": {"fill": "#a5a5a5"}, "mark": "text", "data": {"values": []}}
        ]}
      ]},
      {"width": 2, "height": 740, "view": {"fill": "#555555"}, "mark": "text", "data": {"values": []}},
      {"width": 3, "height": 740, "view": {"fill": "#a5a5a5"}, "mark": "text", "data": {"values": []}},
      {"width": 2, "height": 740, "view": {"fill": "#555555"}, "mark": "text", "data": {"values": []}},
      {"vconcat": [
        {"vconcat": [
          {"width": 551, "height": 2, "view": {"fill": "#a5a5a5"}, "mark": "text", "data": {"values": []}},
          {"width": 551, "height": 3, "view": {"fill": "#555555"}, "mark": "text", "data": {"values": []}},
          {"width": 1, "height": 3.75, "view": {"fill": "transparent"}, "mark": "text", "data": {"values": []}},
          {"bounds": "flush", "hconcat": [
            {"width": 50, "height": 154, "view": {"fill": "transparent"}, "mark": "text", "data": {"values": []}},
            {"width": 480, "height": 128, "data": {"name": "p28"}, "view": {"fill": "#ffffff", "stroke": "#8c8c8c"}, "mark": {"type": "line", "color": "#000000", "strokeWidth": 5, "strokeCap": "butt"}, "encoding": {"x": {"field": "hours", "type": "quantitative", "title": null, "scale": {"domain": [0, 24], "nice": false}, "axis": {"values": [0, 6, 12, 18, 24], "labelExpr": "['08:53','14:53','20:53','02:53','08:53'][datum.value / 6]"}}, "y": {"field": "value", "type": "quantitative", "title": null, "scale": {"domain": [15, 35], "nice": false, "zero": false}, "axis": {"values": [15, 20, 25, 30]}}, "detail": {"field": "seg", "type": "nominal"}}}
          ]},
          {"width": 551, "height": 1, "view": {"fill": "#555555"}, "mark": "text", "data": {"values": []}},
          {"bounds": "flush", "hconcat": [
            {"width": 1, "height": 17, "view": {"fill": "#a5a5a5"}, "mark": "text", "data": {"values": []}},
            {"width": 14, "height": 17, "view": {"fill": "#2f5a5e"}, "data": {"values": [{"t": "S"}]}, "mark": {"type": "text", "style": "sb"}, "encoding": {"text": {"field": "t"}}},
            {"width": 2, "height": 17, "view": {"fill": "#a5a5a5"}, "mark": "text", "data": {"values": []}},
            {"width": 465, "height": 17, "view": {"fill": "#fce4a6"}, "data": {"values": [{"t": "28: B-Field Sensor Tmp at +X/-Y/+Z"}]}, "mark": {"type": "text", "style": "foot"}, "encoding": {"text": {"field": "t"}, "x": {"field": "t", "type": "nominal", "scale": {"type": "point", "padding": 0, "align": 0}, "axis": null}}},
            {"width": 2, "height": 17, "view": {"fill": "#a5a5a5"}, "mark": "text", "data": {"values": []}},
            {"width": 31, "height": 17, "view": {"fill": "#1414e0"}, "data": {"values": [{"t": "Scale"}]}, "mark": {"type": "text", "style": "scl"}, "encoding": {"text": {"field": "t"}}},
            {"width": 2, "height": 17, "view": {"fill": "#a5a5a5"}, "mark": "text", "data": {"values": []}},
            {"width": 30, "height": 17, "view": {"fill": "#fce4a6"}, "data": {"values": [{"t": "5"}]}, "mark": {"type": "text", "style": "num"}, "encoding": {"text": {"field": "t"}, "x": {"field": "t", "type": "nominal", "scale": {"type": "point", "padding": 0, "align": 1}, "axis": null}}},
            {"width": 4, "height": 17, "view": {"fill": "#a5a5a5"}, "mark": "text", "data": {"values": []}}
          ]},
          {"width": 551, "height": 3, "view": {"fill": "#a5a5a5"}, "mark": "text", "data": {"values": []}}
        ]},
        {"vconcat": [
          {"width": 551, "height": 2, "view": {"fill": "#a5a5a5"}, "mark": "text", "data": {"values": []}},
          {"width": 551, "height": 3, "view": {"fill": "#555555"}, "mark": "text", "data": {"values": []}},
          {"width": 1, "height": 3.75, "view": {"fill": "transparent"}, "mark": "text", "data": {"values": []}},
          {"bounds": "flush", "hconcat": [
            {"width": 50, "height": 154, "view": {"fill": "transparent"}, "mark": "text", "data": {"values": []}},
            {"width": 480, "height": 128, "data": {"name": "p32"}, "view": {"fill": "#ffffff", "stroke": "#8c8c8c"}, "mark": {"type": "line", "color": "#000000", "strokeWidth": 5, "strokeCap": "butt"}, "encoding": {"x": {"field": "hours", "type": "quantitative", "title": null, "scale": {"domain": [0, 24], "nice": false}, "axis": {"values": [0, 6, 12, 18, 24], "labelExpr": "['08:53','14:53','20:53','02:53','08:53'][datum.value / 6]"}}, "y": {"field": "value", "type": "quantitative", "title": null, "scale": {"domain": [15, 35], "nice": false, "zero": false}, "axis": {"values": [15, 20, 25, 30]}}, "detail": {"field": "seg", "type": "nominal"}}}
          ]},
          {"width": 551, "height": 1, "view": {"fill": "#555555"}, "mark": "text", "data": {"values": []}},
          {"bounds": "flush", "hconcat": [
            {"width": 1, "height": 17, "view": {"fill": "#a5a5a5"}, "mark": "text", "data": {"values": []}},
            {"width": 14, "height": 17, "view": {"fill": "#2f5a5e"}, "data": {"values": [{"t": "S"}]}, "mark": {"type": "text", "style": "sb"}, "encoding": {"text": {"field": "t"}}},
            {"width": 2, "height": 17, "view": {"fill": "#a5a5a5"}, "mark": "text", "data": {"values": []}},
            {"width": 465, "height": 17, "view": {"fill": "#fce4a6"}, "data": {"values": [{"t": "32: B-Field Sensor Tmp at +X/-Y/-Z"}]}, "mark": {"type": "text", "style": "foot"}, "encoding": {"text": {"field": "t"}, "x": {"field": "t", "type": "nominal", "scale": {"type": "point", "padding": 0, "align": 0}, "axis": null}}},
            {"width": 2, "height": 17, "view": {"fill": "#a5a5a5"}, "mark": "text", "data": {"values": []}},
            {"width": 31, "height": 17, "view": {"fill": "#1414e0"}, "data": {"values": [{"t": "Scale"}]}, "mark": {"type": "text", "style": "scl"}, "encoding": {"text": {"field": "t"}}},
            {"width": 2, "height": 17, "view": {"fill": "#a5a5a5"}, "mark": "text", "data": {"values": []}},
            {"width": 30, "height": 17, "view": {"fill": "#fce4a6"}, "data": {"values": [{"t": "5"}]}, "mark": {"type": "text", "style": "num"}, "encoding": {"text": {"field": "t"}, "x": {"field": "t", "type": "nominal", "scale": {"type": "point", "padding": 0, "align": 1}, "axis": null}}},
            {"width": 4, "height": 17, "view": {"fill": "#a5a5a5"}, "mark": "text", "data": {"values": []}}
          ]},
          {"width": 551, "height": 3, "view": {"fill": "#a5a5a5"}, "mark": "text", "data": {"values": []}}
        ]},
        {"vconcat": [
          {"width": 551, "height": 2, "view": {"fill": "#a5a5a5"}, "mark": "text", "data": {"values": []}},
          {"width": 551, "height": 3, "view": {"fill": "#555555"}, "mark": "text", "data": {"values": []}},
          {"width": 1, "height": 3.75, "view": {"fill": "transparent"}, "mark": "text", "data": {"values": []}},
          {"bounds": "flush", "hconcat": [
            {"width": 50, "height": 154, "view": {"fill": "transparent"}, "mark": "text", "data": {"values": []}},
            {"width": 480, "height": 128, "data": {"name": "p49"}, "view": {"fill": "#ffffff", "stroke": "#8c8c8c"}, "mark": {"type": "line", "color": "#000000", "strokeWidth": 5, "strokeCap": "butt"}, "encoding": {"x": {"field": "hours", "type": "quantitative", "title": null, "scale": {"domain": [0, 24], "nice": false}, "axis": {"values": [0, 6, 12, 18, 24], "labelExpr": "['08:53','14:53','20:53','02:53','08:53'][datum.value / 6]"}}, "y": {"field": "value", "type": "quantitative", "title": null, "scale": {"domain": [15, 35], "nice": false, "zero": false}, "axis": {"values": [15, 20, 25, 30]}}, "detail": {"field": "seg", "type": "nominal"}}}
          ]},
          {"width": 551, "height": 1, "view": {"fill": "#555555"}, "mark": "text", "data": {"values": []}},
          {"bounds": "flush", "hconcat": [
            {"width": 1, "height": 17, "view": {"fill": "#a5a5a5"}, "mark": "text", "data": {"values": []}},
            {"width": 14, "height": 17, "view": {"fill": "#2f5a5e"}, "data": {"values": [{"t": "S"}]}, "mark": {"type": "text", "style": "sb"}, "encoding": {"text": {"field": "t"}}},
            {"width": 2, "height": 17, "view": {"fill": "#a5a5a5"}, "mark": "text", "data": {"values": []}},
            {"width": 465, "height": 17, "view": {"fill": "#fce4a6"}, "data": {"values": [{"t": "49: B-Field Sensor Tmp at -X/+Y/+Z"}]}, "mark": {"type": "text", "style": "foot"}, "encoding": {"text": {"field": "t"}, "x": {"field": "t", "type": "nominal", "scale": {"type": "point", "padding": 0, "align": 0}, "axis": null}}},
            {"width": 2, "height": 17, "view": {"fill": "#a5a5a5"}, "mark": "text", "data": {"values": []}},
            {"width": 31, "height": 17, "view": {"fill": "#1414e0"}, "data": {"values": [{"t": "Scale"}]}, "mark": {"type": "text", "style": "scl"}, "encoding": {"text": {"field": "t"}}},
            {"width": 2, "height": 17, "view": {"fill": "#a5a5a5"}, "mark": "text", "data": {"values": []}},
            {"width": 30, "height": 17, "view": {"fill": "#fce4a6"}, "data": {"values": [{"t": "5"}]}, "mark": {"type": "text", "style": "num"}, "encoding": {"text": {"field": "t"}, "x": {"field": "t", "type": "nominal", "scale": {"type": "point", "padding": 0, "align": 1}, "axis": null}}},
            {"width": 4, "height": 17, "view": {"fill": "#a5a5a5"}, "mark": "text", "data": {"values": []}}
          ]},
          {"width": 551, "height": 3, "view": {"fill": "#a5a5a5"}, "mark": "text", "data": {"values": []}}
        ]},
        {"vconcat": [
          {"width": 551, "height": 2, "view": {"fill": "#a5a5a5"}, "mark": "text", "data": {"values": []}},
          {"width": 551, "height": 3, "view": {"fill": "#555555"}, "mark": "text", "data": {"values": []}},
          {"width": 1, "height": 3.75, "view": {"fill": "transparent"}, "mark": "text", "data": {"values": []}},
          {"bounds": "flush", "hconcat": [
            {"width": 50, "height": 154, "view": {"fill": "transparent"}, "mark": "text", "data": {"values": []}},
            {"width": 480, "height": 128, "data": {"name": "p53"}, "view": {"fill": "#ffffff", "stroke": "#8c8c8c"}, "mark": {"type": "line", "color": "#000000", "strokeWidth": 5, "strokeCap": "butt"}, "encoding": {"x": {"field": "hours", "type": "quantitative", "title": null, "scale": {"domain": [0, 24], "nice": false}, "axis": {"values": [0, 6, 12, 18, 24], "labelExpr": "['08:53','14:53','20:53','02:53','08:53'][datum.value / 6]"}}, "y": {"field": "value", "type": "quantitative", "title": null, "scale": {"domain": [15, 35], "nice": false, "zero": false}, "axis": {"values": [15, 20, 25, 30]}}, "detail": {"field": "seg", "type": "nominal"}}}
          ]},
          {"width": 551, "height": 1, "view": {"fill": "#555555"}, "mark": "text", "data": {"values": []}},
          {"bounds": "flush", "hconcat": [
            {"width": 1, "height": 17, "view": {"fill": "#a5a5a5"}, "mark": "text", "data": {"values": []}},
            {"width": 14, "height": 17, "view": {"fill": "#2f5a5e"}, "data": {"values": [{"t": "S"}]}, "mark": {"type": "text", "style": "sb"}, "encoding": {"text": {"field": "t"}}},
            {"width": 2, "height": 17, "view": {"fill": "#a5a5a5"}, "mark": "text", "data": {"values": []}},
            {"width": 465, "height": 17, "view": {"fill": "#fce4a6"}, "data": {"values": [{"t": "53: B-Field Sensor Tmp at -X/+Y/-Z"}]}, "mark": {"type": "text", "style": "foot"}, "encoding": {"text": {"field": "t"}, "x": {"field": "t", "type": "nominal", "scale": {"type": "point", "padding": 0, "align": 0}, "axis": null}}},
            {"width": 2, "height": 17, "view": {"fill": "#a5a5a5"}, "mark": "text", "data": {"values": []}},
            {"width": 31, "height": 17, "view": {"fill": "#1414e0"}, "data": {"values": [{"t": "Scale"}]}, "mark": {"type": "text", "style": "scl"}, "encoding": {"text": {"field": "t"}}},
            {"width": 2, "height": 17, "view": {"fill": "#a5a5a5"}, "mark": "text", "data": {"values": []}},
            {"width": 30, "height": 17, "view": {"fill": "#fce4a6"}, "data": {"values": [{"t": "5"}]}, "mark": {"type": "text", "style": "num"}, "encoding": {"text": {"field": "t"}, "x": {"field": "t", "type": "nominal", "scale": {"type": "point", "padding": 0, "align": 1}, "axis": null}}},
            {"width": 4, "height": 17, "view": {"fill": "#a5a5a5"}, "mark": "text", "data": {"values": []}}
          ]},
          {"width": 551, "height": 3, "view": {"fill": "#a5a5a5"}, "mark": "text", "data": {"values": []}}
        ]}
      ]}
    ]}
  ]
}
